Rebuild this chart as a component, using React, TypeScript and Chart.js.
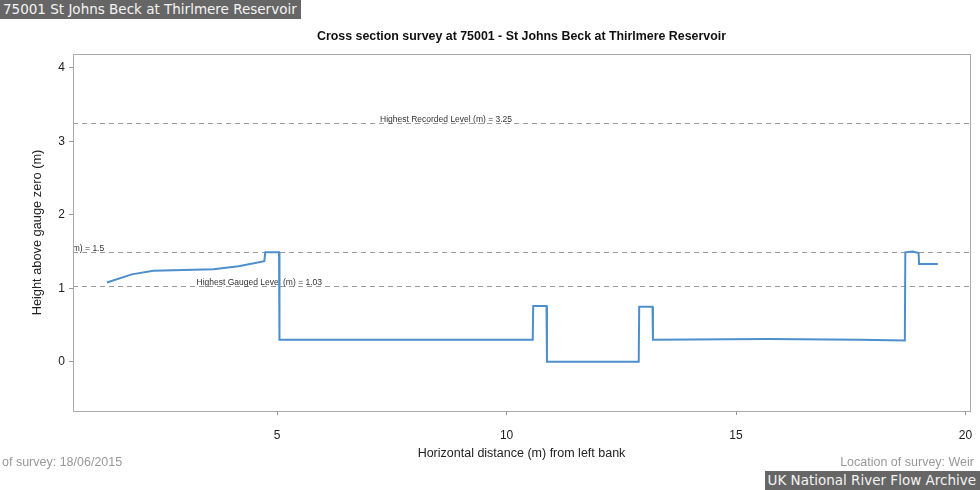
import React, { useEffect, useRef } from "react";
import Chart from "chart.js/auto";

// survey profile
const distances = [1.29, 1.83, 2.3, 3.61, 4.16, 4.72, 4.74, 5.04, 5.05, 10.57, 10.58, 10.87, 10.88, 12.88, 12.89, 13.18, 13.19, 15.7, 17.7, 18.68, 18.69, 18.85, 18.98, 18.99, 19.4];
const heights = [1.08, 1.19, 1.24, 1.26, 1.3, 1.37, 1.49, 1.49, 0.3, 0.3, 0.76, 0.76, 0, 0, 0.75, 0.75, 0.3, 0.31, 0.3, 0.29, 1.49, 1.5, 1.48, 1.33, 1.33];

const xTicks = [5, 10, 15, 20];
const yTicks = [0, 1, 2, 3, 4];

const levelValues = [3.25, 1.5, 1.03];
const levelLabels = ["Highest Recorded Level (m) = 3.25", "m) = 1.5", "Highest Gauged Level (m) = 1.03"];
const levelLabelAt = [8.68, 1.23, 4.61];
const levelLabelAlign: CanvasTextAlign[] = ["center", "right", "center"];

const FONT = "'Liberation Sans', Arial, sans-serif";

const levelsPlugin = {
	id: "levels",
	beforeDatasetsDraw(chart: any) {
		const { ctx, chartArea, scales } = chart;
		ctx.save();
		ctx.beginPath();
		ctx.rect(chartArea.left, chartArea.top, chartArea.right - chartArea.left, chartArea.bottom - chartArea.top);
		ctx.clip();
		levelValues.forEach((v, i) => {
			const y = Math.round(scales.y.getPixelForValue(v)) + 0.5;
			ctx.strokeStyle = "#9a9a9a";
			ctx.lineWidth = 1;
			ctx.setLineDash([5, 4]);
			ctx.beginPath();
			ctx.moveTo(chartArea.left, y);
			ctx.lineTo(chartArea.right, y);
			ctx.stroke();
			ctx.setLineDash([]);
			ctx.fillStyle = "#333";
			ctx.font = `8.5px ${FONT}`;
			ctx.textAlign = levelLabelAlign[i];
			ctx.textBaseline = "middle";
			ctx.fillText(levelLabels[i], scales.x.getPixelForValue(levelLabelAt[i]), y - 4);
		});
		ctx.restore();
	},
	afterDraw(chart: any) {
		const { ctx, chartArea } = chart;
		ctx.save();
		ctx.strokeStyle = "#aaaaaa";
		ctx.lineWidth = 1;
		ctx.strokeRect(
			Math.round(chartArea.left) + 0.5,
			Math.round(chartArea.top) + 0.5,
			Math.round(chartArea.right - chartArea.left),
			Math.round(chartArea.bottom - chartArea.top)
		);
		ctx.restore();
	},
};

function CrossSectionChart() {
	const chartRef = useRef<HTMLCanvasElement>(null);
	const chartInstance = useRef<Chart | null>(null);

	useEffect(() => {
		if (chartInstance.current) {
			chartInstance.current.destroy();
			chartInstance.current = null;
		}
		const ctx = chartRef.current?.getContext("2d");
		if (!ctx) return;

		const points = distances.map((d, i) => ({ x: d, y: heights[i] }));

		chartInstance.current = new Chart(ctx, {
			type: "scatter",
			data: {
				datasets: [
					{
						data: points,
						showLine: true,
						borderColor: "#4d8fcc",
						borderWidth: 2,
						pointRadius: 0,
						tension: 0,
						fill: false,
					},
				],
			},
			options: {
				responsive: false,
				animation: false,
				layout: { padding: { left: 0, right: 10, top: 0, bottom: 28.5 } },
				plugins: {
					legend: { display: false },
					tooltip: { enabled: false },
					title: {
						display: true,
						fullSize: false,
						text: "Cross section survey at 75001 - St Johns Beck at Thirlmere Reservoir",
						color: "#111",
						font: { family: FONT, size: 12.4, weight: "bold" },
						padding: { top: 29.4, bottom: 9.7 },
					},
				},
				scales: {
					x: {
						type: "linear",
						min: 0.55,
						max: 20.1,
						afterBuildTicks: (s: any) => {
							s.ticks = xTicks.map((v) => ({ value: v }));
						},
						afterFit: (s: any) => {
							s.height = 50.5;
							// labels sit well inside the plot, no side padding needed
							s.paddingLeft = 0;
							s.paddingRight = 0;
						},
						ticks: { color: "#222", font: { family: FONT, size: 12 }, padding: 13 },
						grid: { drawOnChartArea: false, tickLength: 4, tickColor: "#999" },
						border: { display: false },
						title: {
							display: true,
							text: "Horizontal distance (m) from left bank",
							color: "#222",
							font: { family: FONT, size: 12.5 },
							padding: { top: 0, bottom: 0 },
						},
					},
					y: {
						type: "linear",
						min: -0.67,
						max: 4.19,
						afterBuildTicks: (s: any) => {
							s.ticks = yTicks.map((v) => ({ value: v }));
						},
						afterFit: (s: any) => {
							s.width = 73;
						},
						ticks: { color: "#222", font: { family: FONT, size: 12 }, padding: 4 },
						grid: { drawOnChartArea: false, tickLength: 4, tickColor: "#999" },
						border: { display: false },
						title: {
							display: true,
							text: "Height above gauge zero (m)",
							color: "#222",
							font: { family: FONT, size: 12.8 },
							padding: { top: 29.3, bottom: 0 },
						},
					},
				},
			},
			plugins: [levelsPlugin],
		} as any);

		return () => {
			if (chartInstance.current) {
				chartInstance.current.destroy();
				chartInstance.current = null;
			}
		};
	}, []);

	return <canvas ref={chartRef} width={980} height={490} style={{ position: "absolute", left: 0, top: 0 }} />;
}

const boxStyle: React.CSSProperties = {
	position: "absolute",
	background: "#666",
	color: "#f4f4f4",
	fontFamily: "'DejaVu Sans', sans-serif",
	fontSize: 13.5,
	lineHeight: "19px",
	height: 19,
	padding: "0 4px 0 3px",
	whiteSpace: "nowrap",
};

const footStyle: React.CSSProperties = {
	position: "absolute",
	top: 454,
	color: "#999",
	fontFamily: FONT,
	fontSize: 12.5,
	lineHeight: "16px",
	whiteSpace: "nowrap",
};

export default function App() {
	return (
		<div style={{ position: "fixed", left: 0, top: 0, width: 980, height: 490, background: "#fff", overflow: "hidden" }}>
			<CrossSectionChart />
			<div style={{ ...boxStyle, left: 0, top: 0 }}>75001 St Johns Beck at Thirlmere Reservoir</div>
			<div style={{ ...footStyle, left: 2 }}>of survey: 18/06/2015</div>
			<div style={{ ...footStyle, right: 6 }}>Location of survey: Weir</div>
			<div style={{ ...boxStyle, right: 0, top: 471 }}>UK National River Flow Archive</div>
		</div>
	);
}
